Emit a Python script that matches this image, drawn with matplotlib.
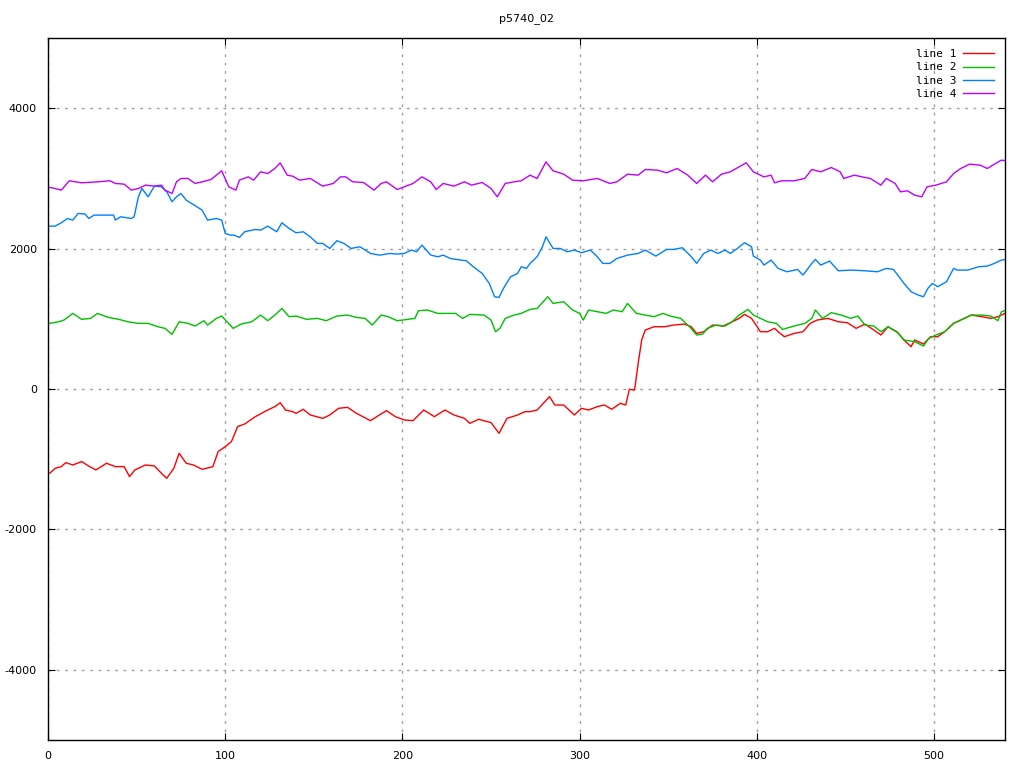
import matplotlib
matplotlib.use('Agg')
import matplotlib.pyplot as plt

# values
x1 = [1, 4, 7.5, 10, 14, 19, 23.5, 27, 33, 38, 43, 46, 49, 55, 60, 64, 67, 71, 74, 78, 82, 87, 93,
      96, 100, 103.5, 107, 111, 117, 120.5, 124, 128, 131, 134, 138, 140, 144, 148, 155, 159, 164,
      169, 174, 182, 187, 191, 196, 201, 206, 212, 218, 224, 229, 235, 238, 243, 250, 254.5, 259,
      265, 269, 272, 276, 283, 286, 291, 297, 301, 305, 310, 314, 318, 323, 326, 328, 331, 333, 335,
      337, 342, 348, 353, 359, 363, 366, 370, 375, 381, 385, 390, 393, 397, 402, 406, 410, 412,
      415.5, 421, 426, 430, 434, 440, 446, 451, 456, 461, 466, 470, 474, 479.5, 483, 487, 489, 494,
      498, 502, 506, 511, 515, 521, 527, 532, 536, 540]
y1 = [-1200, -1129, -1106, -1049, -1082, -1034, -1106, -1153, -1058, -1106, -1106, -1248, -1153,
      -1082, -1096, -1200, -1272, -1129, -916, -1058, -1082, -1144, -1106, -892, -821, -750, -536,
      -498, -394, -346, -299, -251, -195, -299, -323, -346, -289, -370, -418, -370, -275, -261, -346,
      -451, -370, -308, -394, -441, -451, -299, -394, -299, -370, -418, -489, -432, -479, -631, -418,
      -370, -323, -323, -299, -109, -228, -228, -370, -275, -299, -251, -228, -289, -204, -228, -5,
      -14, 365, 698, 840, 887, 887, 911, 925, 887, 792, 816, 911, 897, 944, 1006, 1063, 1006, 816,
      816, 864, 816, 745, 792, 816, 935, 982, 1006, 958, 944, 864, 925, 840, 769, 887, 802, 698, 603,
      698, 641, 745, 745, 816, 935, 982, 1053, 1030, 1006, 1030, 1077]

x2 = [1, 6, 9, 14, 19, 24, 28, 34, 40, 45, 51, 56.5, 62, 66, 70, 74, 79, 83, 88, 90, 95, 98,
      104.5, 109, 115, 120, 124, 128, 132, 136, 140, 146, 152, 157, 163, 169, 174, 179, 183, 188,
      192, 197, 200, 207, 209, 214, 220, 225, 230, 234, 238, 246, 250, 252.5, 255, 258, 263, 267,
      272, 276, 282, 285, 291, 296, 300, 302, 305, 310, 315, 319, 324, 327, 332, 337, 342, 347,
      351, 357, 362, 366, 369.5, 372, 377, 382, 386, 390, 395, 398, 402, 406, 411, 414.5, 421, 427,
      431, 433, 437, 442, 447.5, 453, 457, 461, 466, 470, 474, 479, 483, 489, 494, 497, 501, 506,
      511, 515, 521, 527, 532, 536, 538, 541]
y2 = [935, 958, 982, 1077, 992, 1006, 1077, 1020, 992, 958, 935, 935, 887, 864, 778, 958, 935,
      897, 973, 911, 1006, 1039, 864, 925, 958, 1053, 973, 1053, 1148, 1030, 1039, 992, 1006, 973,
      1039, 1053, 1020, 1006, 911, 1053, 1030, 973, 982, 1006, 1115, 1125, 1077, 1077, 1077, 1006,
      1063, 1053, 982, 816, 864, 1006, 1053, 1077, 1134, 1148, 1314, 1219, 1243, 1125, 1077, 982,
      1125, 1101, 1077, 1125, 1101, 1219, 1077, 1053, 1030, 1077, 1039, 1006, 887, 769, 783, 864,
      911, 897, 958, 1053, 1134, 1053, 1006, 958, 935, 849, 897, 935, 1006, 1125, 1006, 1087, 1053,
      1006, 1039, 911, 897, 816, 887, 816, 698, 674, 612, 721, 769, 816, 935, 982, 1053, 1053, 1039,
      973, 1101, 1125]

x3 = [1, 4, 7.5, 11, 14, 17, 21, 23, 26, 32, 37, 38, 41, 47, 48.6, 51, 53, 56.5, 60, 64, 67, 70,
      72.5, 75, 78, 81, 87, 90, 95, 98, 100, 103, 105, 108, 111, 117, 120, 124, 129, 132, 136, 140,
      144, 148, 152, 155, 159, 163, 167, 171, 176, 182, 187, 193, 197, 201, 205, 208, 211, 216, 220,
      223, 227, 233, 236, 240, 245, 249, 252, 254.5, 257, 261, 265, 267, 270, 272, 276, 279, 281,
      285, 289, 293, 297, 301, 306, 310, 313, 317, 321, 327, 333, 337, 343, 349, 353, 358, 363, 366,
      370, 374, 378, 382, 385, 389, 393, 397, 398, 402, 404, 408, 412, 417, 423, 426, 431, 433, 436,
      441, 446, 453, 461, 468, 473, 477, 479.5, 483, 487, 491, 494, 496.5, 499, 502, 507, 511, 513,
      519, 525, 530, 534, 538, 541]
y3 = [2320, 2320, 2368, 2429, 2406, 2501, 2491, 2429, 2477, 2477, 2477, 2406, 2453, 2429, 2453,
      2738, 2856, 2738, 2890, 2880, 2809, 2667, 2738, 2785, 2690, 2643, 2548, 2406, 2429, 2406,
      2216, 2192, 2192, 2159, 2240, 2273, 2263, 2320, 2240, 2368, 2287, 2225, 2240, 2168, 2074,
      2074, 2002, 2112, 2074, 2002, 2026, 1931, 1907, 1931, 1922, 1931, 1979, 1955, 2050, 1907,
      1884, 1907, 1860, 1836, 1827, 1741, 1646, 1504, 1314, 1305, 1433, 1599, 1646, 1741, 1718,
      1789, 1884, 2026, 2168, 2002, 2002, 1955, 1979, 1941, 1979, 1884, 1789, 1789, 1860, 1907,
      1931, 1979, 1893, 1988, 1988, 2012, 1884, 1789, 1931, 1979, 1931, 1979, 1931, 2002, 2083,
      2026, 1893, 1836, 1765, 1836, 1718, 1670, 1703, 1623, 1789, 1846, 1765, 1822, 1684, 1694,
      1684, 1670, 1718, 1703, 1623, 1504, 1386, 1338, 1314, 1433, 1504, 1457, 1528, 1718, 1694,
      1694, 1741, 1751, 1789, 1836, 1846]

x4 = [1, 4, 7.5, 12, 19, 28, 35, 38, 43, 47, 51, 55, 60, 64, 66, 70, 72.5, 75, 79, 83, 87, 92, 95,
      98, 102, 106, 108, 113, 116, 120, 124, 128, 131, 135, 138, 142, 148, 155, 161, 165, 168, 172,
      178, 184, 188, 191, 197, 201, 206, 211, 216, 219, 223, 229, 235, 239, 245, 250, 253.5, 258,
      263, 267, 272, 276, 281, 285, 291, 296, 302, 310, 317, 321, 327, 333, 337, 344, 349, 355, 361,
      366, 371, 375, 380, 385, 390, 394, 398, 404, 408, 410, 414, 421, 427, 431, 436, 442, 447, 449,
      455, 461, 464, 470, 473, 478, 481, 485, 489, 493, 496, 501, 507, 511, 515, 520, 526, 530, 534,
      538, 541]
y4 = [2871, 2856, 2833, 2966, 2937, 2951, 2966, 2928, 2918, 2833, 2856, 2904, 2890, 2904, 2833,
      2785, 2951, 2999, 2999, 2928, 2951, 2985, 3046, 3108, 2880, 2833, 2975, 3022, 2975, 3094,
      3070, 3141, 3222, 3046, 3032, 2975, 2999, 2890, 2928, 3022, 3022, 2951, 2942, 2833, 2928,
      2951, 2842, 2880, 2928, 3022, 2951, 2842, 2928, 2890, 2951, 2904, 2942, 2856, 2738, 2928,
      2951, 2966, 3046, 2999, 3236, 3108, 3060, 2975, 2966, 2999, 2928, 2951, 3060, 3046, 3127,
      3117, 3080, 3141, 3046, 2928, 3046, 2951, 3060, 3094, 3165, 3222, 3094, 3022, 3046, 2937,
      2966, 2966, 2999, 3127, 3094, 3155, 3094, 2999, 3046, 3013, 2999, 2904, 2999, 2928, 2809,
      2823, 2762, 2738, 2880, 2904, 2951, 3070, 3141, 3203, 3189, 3141, 3203, 3260, 3250]

plt.rcParams['axes.unicode_minus'] = False
plt.rcParams['font.family'] = 'DejaVu Sans'

fig = plt.figure(figsize=(10.24, 7.68), dpi=100)
ax = fig.add_axes([48 / 1024, 28 / 768, 957 / 1024, 702 / 768])

ax.plot(x1, y1, color='#ff0000', lw=1, label='line 1')
ax.plot(x2, y2, color='#00c000', lw=1, label='line 2')
ax.plot(x3, y3, color='#0080ff', lw=1, label='line 3')
ax.plot(x4, y4, color='#c000ff', lw=1, label='line 4')

ax.set_xlim(0, 540)
ax.set_ylim(-5000, 5000)
ax.set_xticks(range(0, 501, 100))
ax.set_yticks(range(-4000, 4001, 2000))
ax.tick_params(direction='in', top=True, right=True, length=5, labelsize=8, pad=8)
ax.grid(True, color='#a0a0a0', linestyle=(0, (2, 4)), lw=1)
for s in ax.spines.values():
    s.set_linewidth(1)

ax.set_title('p5740_02', fontsize=8, pad=12)
leg = ax.legend(loc='upper right', frameon=False, markerfirst=False, handlelength=2.8,
                handletextpad=0.6, prop={'family': 'DejaVu Sans Mono', 'size': 8},
                labelspacing=0.3, borderaxespad=0.6)

fig.savefig('out.png', dpi=100)
